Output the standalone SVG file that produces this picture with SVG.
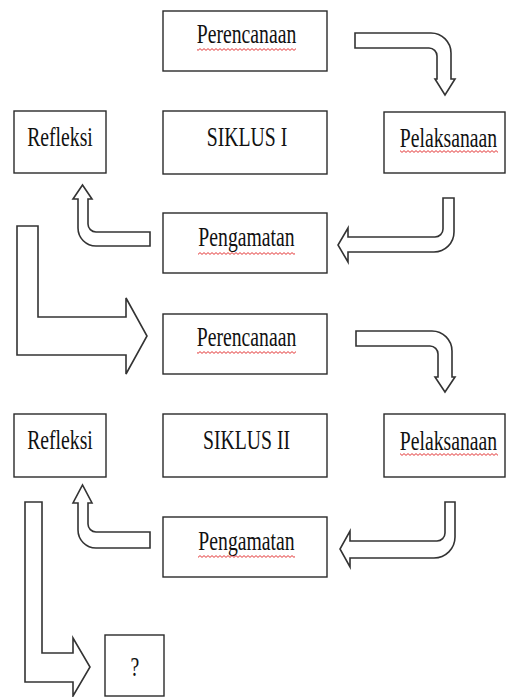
<svg xmlns="http://www.w3.org/2000/svg" width="510" height="697" viewBox="0 0 510 697">
<style>
.box{fill:#fff;stroke:#2a2a2a;stroke-width:1.4}
.arr{fill:#fff;stroke:#333;stroke-width:1.6;stroke-linejoin:miter}
.t{font-family:"Liberation Serif","Times New Roman",serif;font-size:27px;fill:#111;text-anchor:middle}
.sq{fill:url(#squig)}
</style>
<defs>
<pattern id="squig" patternUnits="userSpaceOnUse" width="4" height="3">
<path d="M0,0.6 L2,2.4 L4,0.6" fill="none" stroke="#e02020" stroke-width="0.9"/>
</pattern>
</defs>
<rect width="510" height="697" fill="#fff"/>
<g id="connectors">
<path class="arr" d="M355,33 H431 A20,20 0 0 1 451,53 V79 H455 L445,95 L435,79 H437 V56 A8,8 0 0 0 429,48 H355 Z"/>
<path class="arr" d="M443,198 H454 V232 A20,20 0 0 1 434,252 H348 V262 L338,245 L348,228 V237 H435 A8,8 0 0 0 443,229 Z"/>
<path class="arr" d="M150,232 V246 H96 A18,18 0 0 1 78,228 V199 H73 L82.5,185 L92,199 H88 V224 A8,8 0 0 0 96,232 Z"/>
<path class="arr" d="M17,226 H38 V317 H126 V298 L147,336 L126,374 V355 H17 Z"/>
<path class="arr" d="M356,331 H432 A20,20 0 0 1 452,351 V377 H455 L445,392 L435,377 H438 V354 A8,8 0 0 0 430,346 H356 Z"/>
<path class="arr" d="M445,502 H455 V537 A21,21 0 0 1 434,558 H350 V567 L340,549 L350,531 V541 H437 A8,8 0 0 0 445,533 Z"/>
<path class="arr" d="M150,532 V548 H96 A18,18 0 0 1 78,530 V503 H73 L82.5,485 L92,503 H88 V524 A8,8 0 0 0 96,532 Z"/>
<path class="arr" d="M25,502 H42 V653 H73 V638 L90,667 L73,696 V682 H25 Z"/>
</g>
<g id="perencanaan1">
<rect class="box" x="163" y="11" width="164" height="60"/>
<text class="t" transform="translate(246.5,43) scale(0.73,1)">Perencanaan</text>
<rect class="sq" x="197" y="48" width="99" height="3"/>
</g>
<g id="siklus1">
<rect class="box" x="163" y="111" width="164" height="63"/>
<text class="t" transform="translate(247,146) scale(0.73,1)">SIKLUS I</text>
</g>
<g id="pelaksanaan1">
<rect class="box" x="384" y="112" width="121" height="61"/>
<text class="t" transform="translate(448.5,147) scale(0.73,1)">Pelaksanaan</text>
<rect class="sq" x="400" y="150" width="98" height="3"/>
</g>
<g id="refleksi1">
<rect class="box" x="14" y="111" width="92" height="62"/>
<text class="t" transform="translate(60,146) scale(0.73,1)">Refleksi</text>
</g>
<g id="pengamatan1">
<rect class="box" x="163" y="213" width="164" height="60"/>
<text class="t" transform="translate(246.5,246) scale(0.73,1)">Pengamatan</text>
<rect class="sq" x="198" y="252" width="97" height="3"/>
</g>
<g id="perencanaan2">
<rect class="box" x="163" y="314" width="164" height="60"/>
<text class="t" transform="translate(246.5,346) scale(0.73,1)">Perencanaan</text>
<rect class="sq" x="197" y="351" width="99" height="3"/>
</g>
<g id="siklus2">
<rect class="box" x="163" y="414" width="164" height="63"/>
<text class="t" transform="translate(246.5,449) scale(0.73,1)">SIKLUS II</text>
</g>
<g id="pelaksanaan2">
<rect class="box" x="384" y="414" width="121" height="63"/>
<text class="t" transform="translate(448.5,450) scale(0.73,1)">Pelaksanaan</text>
<rect class="sq" x="400" y="453" width="98" height="3"/>
</g>
<g id="refleksi2">
<rect class="box" x="14" y="414" width="92" height="63"/>
<text class="t" transform="translate(60,449) scale(0.73,1)">Refleksi</text>
</g>
<g id="pengamatan2">
<rect class="box" x="163" y="517" width="164" height="60"/>
<text class="t" transform="translate(246.5,550) scale(0.73,1)">Pengamatan</text>
<rect class="sq" x="198" y="555" width="97" height="3"/>
</g>
<g id="question">
<rect class="box" x="105" y="635" width="59" height="61"/>
<text class="t" transform="translate(135,676) scale(0.73,1)">?</text>
</g>
</svg>
